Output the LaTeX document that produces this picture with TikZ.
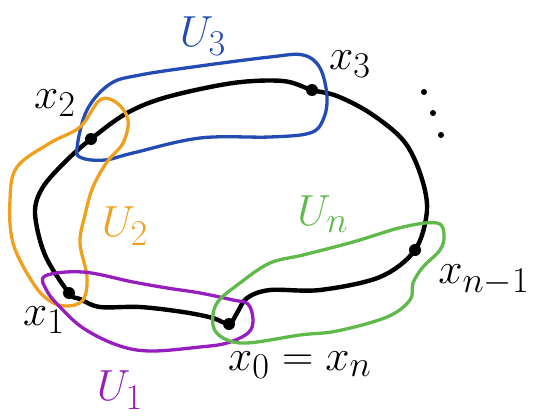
\documentclass[tikz,border=0pt]{standalone}
\usepackage{graphicx}
\usepackage{amsmath}
\definecolor{ublue}{RGB}{35,75,180}
\definecolor{uorange}{RGB}{238,160,30}
\definecolor{upurple}{RGB}{150,30,190}
\definecolor{ugreen}{RGB}{95,185,75}
\newcommand{\hlab}[1]{\scalebox{1.75}{\Huge$#1$}}
\tikzset{
  pt/.style={circle,fill=black,inner sep=0pt,minimum size=12pt},
  curve/.style={line width=4.4pt,line cap=round,line join=round},
  nbhd/.style={line width=3.3pt,line cap=round,line join=round},
  lab/.style={inner sep=0pt}
}
\begin{document}
\begin{tikzpicture}[x=1pt,y=-1pt]
\useasboundingbox (0,0) rectangle (540,417);
% points
\node[pt] (x2) at (91,139) {};
\node[pt] (x3) at (312,90) {};
\node[pt] (xn1) at (415,250) {};
\node[pt] (x0) at (229,324) {};
\node[pt] (x1) at (69,293) {};
% black loop
\draw[curve] plot[smooth cycle,tension=0.55] coordinates {
 (x2.center) (127,113) (167,97) (233,83) (283,81) (x3.center) (337,96)
 (370,113) (403,140) (420,173) (427,210) (xn1.center) (380,277)
 (320,290) (270,290) (247,298) (237,313) (x0.center) (213,318)
 (183,312) (140,307) (100,307) (80,299) (x1.center) (45,255) (35,213)
 (43,187) (67,160)};
% U3 blue
\draw[nbhd,ublue] plot[smooth cycle,tension=0.6] coordinates {
 (77,148) (87,110) (110,84) (140,75) (200,66) (270,57) (303,55) (320,68)
 (327,97) (323,120) (310,133) (270,137) (200,138) (133,153) (105,160) (82,158)};
% U2 orange
\draw[nbhd,uorange] plot[smooth cycle,tension=0.6] coordinates {
 (100,100) (117,103) (128,120) (123,143) (107,162) (93,187) (85,215)
 (80,243) (87,277) (83,300) (67,306) (50,301) (33,283) (13,243) (10,200)
 (17,167) (50,143) (80,127)};
% U1 purple
\draw[nbhd,upurple] plot[smooth cycle,tension=0.6] coordinates {
 (45,276) (83,272) (133,282) (167,288) (200,293) (233,300) (248,304)
 (253,320) (248,333) (227,343) (200,347) (150,351) (117,345) (83,328)
 (60,307) (47,291)};
% Un green
\draw[nbhd,ugreen] plot[smooth cycle,tension=0.6] coordinates {
 (270,263) (303,255) (353,242) (403,227) (437,223) (444,235) (440,250)
 (423,267) (413,283) (410,300) (387,317) (337,331) (300,335) (247,343)
 (223,338) (213,325) (217,303) (240,283)};
% labels
\node[lab,ublue] (U3) at (203,36) {\hlab{U_3}};
\node[lab,uorange] (U2) at (125,226) {\hlab{U_2}};
\node[lab,ugreen] (Un) at (323,214) {\hlab{U_n}};
\node[lab,upurple] (U1) at (120,390) {\hlab{U_1}};
\node[lab] (lx2) at (55,103) {\hlab{x_2}};
\node[lab] (lx3) at (350,64) {\hlab{x_3}};
\node[lab] (lxn1) at (484,280) {\hlab{x_{n-1}}};
\node[lab] (lx1) at (44,320) {\hlab{x_1}};
\node[lab] (lx0) at (300,365) {\hlab{x_0=x_n}};
% dots
\fill (424,92) circle (3pt) (433,113) circle (3pt) (441,135) circle (3pt);
\end{tikzpicture}
\end{document}
